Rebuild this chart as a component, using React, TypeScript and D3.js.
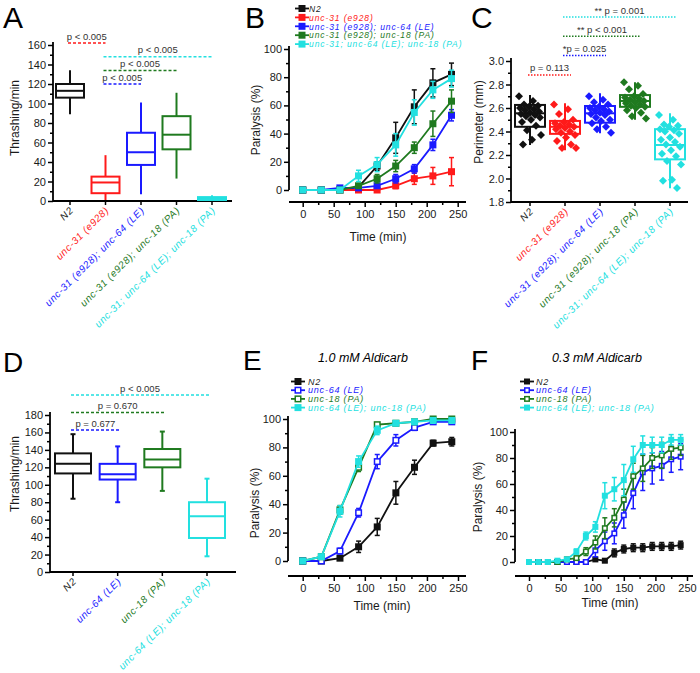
import React, { useEffect, useRef } from "react";
import * as d3 from "d3";

const FONT = "'Liberation Sans', Arial, Helvetica, sans-serif";

const BLACK = "#111111";
const RED = "#ff1a1a";
const BLUE = "#1a1aff";
const GREEN = "#1f7a1f";
const CYAN = "#22e0e0";

// ---- panel A : thrashing, unc-31 background ----
const groupsA = [
  "N2",
  "unc-31 (e928)",
  "unc-31 (e928);  unc-64 (LE)",
  "unc-31 (e928);  unc-18 (PA)",
  "unc-31; unc-64 (LE); unc-18 (PA)",
];
const colorsA = [BLACK, RED, BLUE, GREEN, CYAN];
// [min, q1, median, q3, max]
const statsA = [
  [89, 106, 113, 120, 134],
  [1, 8, 19, 25, 47],
  [7, 37, 50, 70, 101],
  [23, 53, 68, 87, 111],
  [0, 1, 3, 4, 6],
];
const sigA = [
  { text: "p < 0.005", from: 0, to: 1 },
  { text: "p < 0.005", from: 1, to: 4 },
  { text: "p < 0.005", from: 1, to: 3 },
  { text: "p < 0.005", from: 1, to: 2 },
];
const ticksA = [0, 20, 40, 60, 80, 100, 120, 140, 160];
const minorA = [10, 30, 50, 70, 90, 110, 130, 150];

// ---- panel C : perimeter ----
const statsC = [
  [2.285, 2.44, 2.555, 2.626, 2.71],
  [2.24, 2.38, 2.44, 2.49, 2.64],
  [2.385, 2.475, 2.555, 2.617, 2.725],
  [2.5, 2.61, 2.66, 2.71, 2.82],
  [1.917, 2.163, 2.285, 2.42, 2.555],
];
const pointsC = [
  [2.7, 2.66, 2.63, 2.62, 2.61, 2.6, 2.59, 2.58, 2.57, 2.56, 2.55, 2.54, 2.53, 2.52, 2.5, 2.48, 2.45, 2.41, 2.37, 2.33, 2.29],
  [2.63, 2.59, 2.55, 2.5, 2.48, 2.47, 2.46, 2.45, 2.44, 2.43, 2.42, 2.4, 2.39, 2.37, 2.35, 2.32, 2.29, 2.26, 2.26],
  [2.7, 2.67, 2.65, 2.63, 2.61, 2.6, 2.59, 2.58, 2.57, 2.56, 2.55, 2.54, 2.52, 2.5, 2.49, 2.47, 2.44, 2.42, 2.39],
  [2.82, 2.79, 2.76, 2.72, 2.7, 2.69, 2.68, 2.67, 2.66, 2.65, 2.64, 2.63, 2.62, 2.61, 2.6, 2.58, 2.56, 2.53, 2.51],
  [2.54, 2.5, 2.46, 2.45, 2.44, 2.42, 2.41, 2.4, 2.38, 2.35, 2.33, 2.31, 2.29, 2.27, 2.24, 2.21, 2.19, 2.15, 2.12, 1.99, 1.98, 1.92],
];
const sigC = [
  { text: "** p = 0.001", from: 1, to: 4 },
  { text: "** p < 0.001", from: 1, to: 3 },
  { text: "*p = 0.025", from: 1, to: 2 },
  { text: "p = 0.113", from: 0, to: 1 },
];
const ticksC = [1.8, 2.0, 2.2, 2.4, 2.6, 2.8, 3.0];
const minorC = [1.9, 2.1, 2.3, 2.5, 2.7, 2.9];

// ---- panel D : thrashing, wild-type background ----
const groupsD = ["N2", "unc-64 (LE)", "unc-18 (PA)", "unc-64 (LE); unc-18 (PA)"];
const colorsD = [BLACK, BLUE, GREEN, CYAN];
const statsD = [
  [84, 113, 124, 136, 158],
  [80, 106, 112, 124, 144],
  [93, 120, 129, 141, 161],
  [18, 39, 64, 80, 107],
];
const sigD = [
  { text: "p < 0.005", from: 0, to: 3 },
  { text: "p = 0.670", from: 0, to: 2 },
  { text: "p = 0.677", from: 0, to: 1 },
];
const ticksD = [0, 20, 40, 60, 80, 100, 120, 140, 160, 180];
const minorD = [10, 30, 50, 70, 90, 110, 130, 150, 170];

// ---- time courses ----
const timeTicks = [0, 50, 100, 150, 200, 250];
const timeMinor = [25, 75, 125, 175, 225];
const pctTicks = [0, 20, 40, 60, 80, 100];
const pctMinor = [10, 30, 50, 70, 90];

const timesB = [0, 30, 60, 90, 120, 150, 180, 210, 240];
const seriesB = [
  { name: "N2", color: BLACK, open: false, values: [0, 0, 0, 2, 17, 37, 59, 76, 82], errs: [0, 0, 0, 1, 3, 11, 12, 10, 8] },
  { name: "unc-31 (e928)", color: RED, open: false, values: [0, 0, 0, 0, 0, 3, 8, 10, 13], errs: [0, 0, 0, 0, 0, 2, 4, 6, 10] },
  { name: "unc-31 (e928);  unc-64 (LE)", color: BLUE, open: false, values: [0, 0, 1.5, 1.5, 3, 8, 15, 32, 53], errs: [0, 0, 0, 0, 1, 3, 3, 4, 4] },
  { name: "unc-31 (e928);  unc-18 (PA)", color: GREEN, open: false, values: [0, 0, 0, 3, 8, 17, 30, 47, 63], errs: [0, 0, 0, 1, 3, 4, 4, 9, 8] },
  { name: "unc-31; unc-64 (LE);  unc-18 (PA)", color: CYAN, open: false, values: [0, 0, 0, 10, 18, 32, 55, 71, 79], errs: [0, 0, 0, 4, 5, 8, 9, 6, 6] },
];

const timesE = [0, 30, 60, 90, 120, 150, 180, 210, 240];
const seriesE = [
  { name: "N2", color: BLACK, open: false, values: [0, 0, 2, 10, 24, 48, 66, 83, 84], errs: [0, 0, 1, 4, 6, 8, 5, 2, 3] },
  { name: "unc-64 (LE)", color: BLUE, open: true, values: [0, 0, 7, 34, 70, 85, 94, 98, 98], errs: [0, 0, 2, 3, 5, 4, 2, 1, 1] },
  { name: "unc-18 (PA)", color: GREEN, open: true, values: [0, 3, 36, 66, 96, 97, 98, 100, 100], errs: [0, 1, 3, 3, 1, 1, 1, 0, 0] },
  { name: "unc-64 (LE); unc-18 (PA)", color: CYAN, open: false, values: [0, 3, 35, 70, 92, 97, 98, 99, 99], errs: [0, 1, 4, 4, 3, 1, 1, 1, 1] },
];

const timesF = [0, 15, 30, 45, 60, 75, 90, 105, 120, 135, 150, 165, 180, 195, 210, 225, 240];
const seriesF = [
  { name: "N2", color: BLACK, open: false, values: [0, 0, 0, 0, 0, 0, 0, 2, 1, 7, 10, 11, 11, 12, 12, 12, 13], errs: [0, 0, 0, 0, 0, 0, 0, 1, 1, 3, 3, 3, 3, 3, 3, 3, 3] },
  { name: "unc-64 (LE)", color: BLUE, open: true, values: [0, 0, 0, 0, 0, 0, 0, 9, 16, 22, 36, 53, 69, 72, 74, 79, 81], errs: [0, 0, 0, 0, 0, 0, 0, 5, 7, 8, 10, 12, 14, 12, 11, 10, 10] },
  { name: "unc-18 (PA)", color: GREEN, open: true, values: [0, 0, 0, 0, 2, 3, 8, 15, 26, 34, 48, 66, 72, 80, 82, 87, 88], errs: [0, 0, 0, 0, 1, 1, 3, 5, 8, 7, 8, 10, 10, 8, 10, 8, 6] },
  { name: "unc-64 (LE); unc-18 (PA)", color: CYAN, open: false, values: [0, 0, 0, 1, 2, 8, 20, 27, 51, 56, 63, 79, 90, 90, 90, 94, 94], errs: [0, 0, 0, 0, 0, 2, 3, 4, 10, 9, 12, 10, 7, 6, 6, 4, 4] },
];

function styleAxis(g) {
  g.attr("font-family", FONT).attr("font-size", 11);
  g.select(".domain").remove();
  g.selectAll("line").attr("stroke", "#000").attr("stroke-width", 1.5);
  g.selectAll("text").attr("fill", "#1a1a1a");
}

function yAxis(svg, y, x0, ticks, minor, fmt, top) {
  svg.append("g").attr("transform", `translate(${x0},0)`)
    .call(d3.axisLeft(y).tickValues(ticks).tickSize(5).tickPadding(2).tickFormat(fmt))
    .call(styleAxis);
  svg.append("g").attr("transform", `translate(${x0},0)`)
    .call(d3.axisLeft(y).tickValues(minor).tickSize(3).tickFormat(() => ""))
    .call(styleAxis);
  svg.append("line").attr("x1", x0).attr("x2", x0)
    .attr("y1", y.range()[0]).attr("y2", top)
    .attr("stroke", "#000").attr("stroke-width", 1.8);
}

function axisTitleY(svg, text, x, yc) {
  svg.append("text").attr("transform", `translate(${x},${yc}) rotate(-90)`)
    .attr("text-anchor", "middle").attr("font-family", FONT).attr("font-size", 12)
    .attr("fill", "#1a1a1a").text(text);
}

function panelLetter(svg, t, x, y, size) {
  svg.append("text").attr("x", x).attr("y", y).attr("font-family", FONT)
    .attr("font-size", size).attr("fill", "#000").text(t);
}

function drawBoxPanel(svg, p) {
  const { cats, colors, stats, y, xRange, x0, x1, ticks, minor, fmt, boxW, sig, sigTop, sigStep, sigExt, dotted } = p;
  const xs = d3.scalePoint().domain(d3.range(cats.length)).range(xRange);
  const yBase = y.range()[0];

  yAxis(svg, y, x0, ticks, minor, fmt, y.range()[1] - 3);
  svg.append("line").attr("x1", x0).attr("x2", x1).attr("y1", yBase).attr("y2", yBase)
    .attr("stroke", "#000").attr("stroke-width", 1.8);

  cats.forEach((c, i) => {
    const cx = xs(i);
    svg.append("line").attr("x1", cx).attr("x2", cx).attr("y1", yBase).attr("y2", yBase + 4)
      .attr("stroke", "#000").attr("stroke-width", 1.5);
    svg.append("text").attr("transform", `translate(${cx + 4},${yBase + 10}) rotate(-45)`)
      .attr("text-anchor", "end").attr("font-family", FONT).attr("font-size", 10)
      .attr("letter-spacing", 0.6)
      .attr("font-style", "italic").attr("fill", i === 0 ? "#222" : colors[i]).text(c);
  });

  stats.forEach((s, i) => {
    const cx = xs(i);
    const col = colors[i];
    const g = svg.append("g").attr("stroke", col).attr("stroke-width", 2).attr("fill", "none");
    g.append("line").attr("x1", cx).attr("x2", cx).attr("y1", y(s[4])).attr("y2", y(s[3]));
    g.append("line").attr("x1", cx).attr("x2", cx).attr("y1", y(s[1])).attr("y2", y(s[0]));
    if (p.caps) {
      [s[0], s[4]].forEach((v) => {
        g.append("line").attr("x1", cx - 2.5).attr("x2", cx + 2.5).attr("y1", y(v)).attr("y2", y(v));
      });
    }
    g.append("rect").attr("x", cx - boxW / 2).attr("width", boxW)
      .attr("y", y(s[3])).attr("height", Math.max(0.5, y(s[1]) - y(s[3])));
    g.append("line").attr("x1", cx - boxW / 2).attr("x2", cx + boxW / 2)
      .attr("y1", y(s[2])).attr("y2", y(s[2]));

    if (p.points) {
      const sym = d3.symbol(d3.symbolSquare, 32);
      p.points[i].forEach((v, j) => {
        const off = ((j * 37) % 23) - 11;
        svg.append("path").attr("d", sym())
          .attr("transform", `translate(${cx + off},${y(v)}) rotate(45)`)
          .attr("fill", col);
      });
    }
  });

  sig.forEach((s, i) => {
    const ly = sigTop + i * sigStep;
    const xa = xs(s.from) - 2;
    const xb = xs(s.to) + sigExt;
    svg.append("line").attr("x1", xa).attr("x2", xb).attr("y1", ly).attr("y2", ly)
      .attr("stroke", colors[s.to]).attr("stroke-width", 1.5)
      .attr("stroke-dasharray", dotted ? "1.5,1.5" : "3,2");
    svg.append("text").attr("x", (xa + xb) / 2).attr("y", ly - 3.5).attr("text-anchor", "middle")
      .attr("font-family", FONT).attr("font-size", 9.5).attr("fill", "#333").text(s.text);
  });
}

function drawLinePanel(svg, p) {
  const { x, y, times, series, xAxisY, yAxisX, xEnd, yTop, leg, msize, cap } = p;

  yAxis(svg, y, yAxisX, pctTicks, pctMinor, d3.format("d"), yTop);
  const xg = svg.append("g").attr("transform", `translate(0,${xAxisY})`);
  xg.call(d3.axisBottom(x).tickValues(timeTicks).tickSize(5).tickPadding(3)).call(styleAxis);
  svg.append("g").attr("transform", `translate(0,${xAxisY})`)
    .call(d3.axisBottom(x).tickValues(timeMinor).tickSize(3).tickFormat(() => ""))
    .call(styleAxis);
  svg.append("line").attr("x1", yAxisX).attr("x2", xEnd).attr("y1", xAxisY).attr("y2", xAxisY)
    .attr("stroke", "#000").attr("stroke-width", 1.8);

  svg.append("text").attr("x", p.tx).attr("y", p.ty).attr("text-anchor", "middle")
    .attr("font-family", FONT).attr("font-size", 12).attr("fill", "#1a1a1a").text("Time (min)");

  const line = d3.line().x((d) => x(d[0])).y((d) => y(d[1]));

  series.forEach((s) => {
    const pts = times.map((t, i) => [t, s.values[i], s.errs[i]]);
    const g = svg.append("g");
    pts.forEach((d) => {
      if (d[2] > 0) {
        const cx = x(d[0]);
        g.append("line").attr("x1", cx).attr("x2", cx).attr("y1", y(d[1] - d[2])).attr("y2", y(d[1] + d[2]))
          .attr("stroke", s.color).attr("stroke-width", 1.5);
        [d[1] - d[2], d[1] + d[2]].forEach((v) => {
          g.append("line").attr("x1", cx - cap).attr("x2", cx + cap).attr("y1", y(v)).attr("y2", y(v))
            .attr("stroke", s.color).attr("stroke-width", 1.5);
        });
      }
    });
    g.append("path").attr("d", line(pts)).attr("fill", "none").attr("stroke", s.color).attr("stroke-width", 1.8);
    pts.forEach((d) => {
      const sz = s.open ? msize - 1.5 : msize;
      g.append("rect").attr("x", x(d[0]) - sz / 2).attr("y", y(d[1]) - sz / 2)
        .attr("width", sz).attr("height", sz)
        .attr("fill", s.open ? "#fff" : s.color)
        .attr("stroke", s.color).attr("stroke-width", s.open ? 1.5 : 0);
    });
  });

  series.forEach((s, i) => {
    const ly = leg.y0 + i * leg.dy;
    svg.append("line").attr("x1", leg.mx - leg.half).attr("x2", leg.mx + leg.half)
      .attr("y1", ly).attr("y2", ly).attr("stroke", s.color).attr("stroke-width", 1.8);
    const sz = s.open ? msize - 1.5 : msize;
    svg.append("rect").attr("x", leg.mx - sz / 2).attr("y", ly - sz / 2).attr("width", sz).attr("height", sz)
      .attr("fill", s.open ? "#fff" : s.color).attr("stroke", s.color).attr("stroke-width", s.open ? 1.5 : 0);
    svg.append("text").attr("x", leg.tx).attr("y", ly + 3.2).attr("font-family", FONT)
      .attr("font-size", leg.fs).attr("font-style", "italic").attr("letter-spacing", leg.ls)
      .attr("fill", i === 0 ? "#222" : s.color).text(s.name);
  });
}

const App = () => {
  const svgRef = useRef(null);

  useEffect(() => {
    const svg = d3.select(svgRef.current);
    svg.selectAll("*").remove();

    // A
    panelLetter(svg, "A", 3, 28, 30);
    axisTitleY(svg, "Thrashing/min", 19, 118);
    drawBoxPanel(svg, {
      cats: groupsA, colors: colorsA, stats: statsA,
      y: d3.scaleLinear().domain([0, 160]).range([201, 45]),
      xRange: [70, 212], x0: 53, x1: 232, ticks: ticksA, minor: minorA, fmt: d3.format("d"),
      boxW: 28, sig: sigA, sigTop: 43, sigStep: 13.7, sigExt: 0, caps: false,
    });

    // B
    panelLetter(svg, "B", 245, 28, 30);
    axisTitleY(svg, "Paralysis (%)", 260, 120);
    drawLinePanel(svg, {
      x: d3.scaleLinear().domain([0, 250]).range([302.7, 457.7]),
      y: d3.scaleLinear().domain([0, 100]).range([190, 49]),
      times: timesB, series: seriesB, xAxisY: 202, yAxisX: 289, xEnd: 466, yTop: 46,
      tx: 378, ty: 241, msize: 7, cap: 2.5,
      leg: { mx: 302, half: 7, tx: 309, y0: 8.5, dy: 8.9, fs: 8.5, ls: 0.9 },
    });

    // C
    panelLetter(svg, "C", 471, 28, 30);
    axisTitleY(svg, "Perimeter (mm)", 483, 122);
    drawBoxPanel(svg, {
      cats: groupsA, colors: colorsA, stats: statsC, points: pointsC,
      y: d3.scaleLinear().domain([1.8, 3.0]).range([202, 61]),
      xRange: [530, 670], x0: 511, x1: 688, ticks: ticksC, minor: minorC, fmt: d3.format(".1f"),
      boxW: 30, sig: sigC, sigTop: 17, sigStep: 19.3, sigExt: 6, caps: false, dotted: true,
    });

    // D
    panelLetter(svg, "D", 3, 372, 28);
    axisTitleY(svg, "Thrashing/min", 19, 474);
    drawBoxPanel(svg, {
      cats: groupsD, colors: colorsD, stats: statsD,
      y: d3.scaleLinear().domain([0, 180]).range([572, 415]),
      xRange: [73, 207], x0: 50, x1: 236, ticks: ticksD, minor: minorD, fmt: d3.format("d"),
      boxW: 36, sig: sigD, sigTop: 395, sigStep: 17.5, sigExt: 2, caps: true,
    });

    // E
    panelLetter(svg, "E", 243, 370, 28);
    svg.append("text").attr("x", 363).attr("y", 362).attr("text-anchor", "middle")
      .attr("font-family", FONT).attr("font-size", 12.5).attr("font-style", "italic").text("1.0 mM Aldicarb");
    axisTitleY(svg, "Paralysis (%)", 259, 503);
    drawLinePanel(svg, {
      x: d3.scaleLinear().domain([0, 250]).range([302.7, 458]),
      y: d3.scaleLinear().domain([0, 100]).range([561, 419]),
      times: timesE, series: seriesE, xAxisY: 576, yAxisX: 288, xEnd: 466, yTop: 416,
      tx: 382, ty: 610, msize: 7, cap: 2.5,
      leg: { mx: 298, half: 7, tx: 308, y0: 381.5, dy: 8.7, fs: 9, ls: 0.8 },
    });

    // F
    panelLetter(svg, "F", 471, 370, 28);
    svg.append("text").attr("x", 597).attr("y", 362).attr("text-anchor", "middle")
      .attr("font-family", FONT).attr("font-size", 12.5).attr("font-style", "italic").text("0.3 mM Aldicarb");
    axisTitleY(svg, "Paralysis (%)", 482, 497);
    drawLinePanel(svg, {
      x: d3.scaleLinear().domain([0, 250]).range([529, 687]),
      y: d3.scaleLinear().domain([0, 100]).range([562, 432]),
      times: timesF, series: seriesF, xAxisY: 576, yAxisX: 515, xEnd: 693, yTop: 429,
      tx: 610, ty: 607, msize: 6, cap: 2.5,
      leg: { mx: 527, half: 7, tx: 536, y0: 381.5, dy: 8.7, fs: 9, ls: 0.8 },
    });
  }, []);

  return (
    <svg ref={svgRef} width={700} height={673}
      style={{ position: "absolute", left: 0, top: 0, background: "#fff" }} />
  );
};

export default App;
